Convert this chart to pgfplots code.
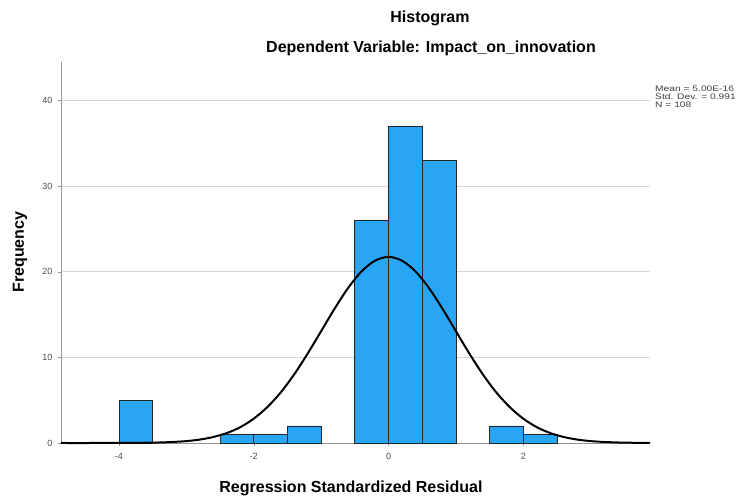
\documentclass[border=0pt]{standalone}
\usepackage{pgfplots}
\pgfplotsset{compat=1.18}
\usepackage{fontspec}
\setmainfont{Liberation Sans}
\definecolor{barblue}{RGB}{40,165,245}
\definecolor{gridgray}{RGB}{215,215,215}
\definecolor{axgray}{RGB}{150,150,150}
\begin{document}
\begin{tikzpicture}
\begin{axis}[
  name=ax,
  scale only axis,
  width=589pt, height=381pt,
  xmin=-4.86, xmax=3.88,
  ymin=0, ymax=44.5,
  axis lines=left,
  axis line style={-, draw=axgray, line width=0.8pt},
  xtick={-4,-2,0,2},
  ytick={0,10,20,30,40},
  ymajorgrids,
  grid style={gridgray, line width=0.8pt},
  tick style={draw=axgray},
  major tick length=3pt,
  tick align=outside,
  /pgf/number format/assume math mode=true,
  ticklabel style={font=\fontsize{9}{10}\selectfont, text=black!70},
  xticklabel style={yshift=-4pt},
  yticklabel style={xshift=-2pt},
  clip=false,
]
\addplot[ybar interval, fill=barblue, draw=black!85, line width=0.7pt]
  coordinates {(-4,5) (-3.5,5)};
\addplot[ybar interval, fill=barblue, draw=black!85, line width=0.7pt]
  coordinates {(-2.5,1) (-2,1) (-1.5,2) (-1,2)};
\addplot[ybar interval, fill=barblue, draw=black!85, line width=0.7pt]
  coordinates {(-0.5,26) (0,37) (0.5,33) (1,33)};
\addplot[ybar interval, fill=barblue, draw=black!85, line width=0.7pt]
  coordinates {(1.5,2) (2,1) (2.5,1)};
\addplot[black, line width=2pt, smooth, no markers] coordinates {
(-4.86,0) (-4.4,0) (-4.0,0.01) (-3.8,0.01) (-3.6,0.03) (-3.4,0.06) (-3.2,0.12) (-3.0,0.22)
(-2.8,0.40) (-2.6,0.70) (-2.4,1.16) (-2.2,1.85) (-2.0,2.84) (-1.8,4.18)
(-1.6,5.90) (-1.4,8.01) (-1.2,10.44) (-1.0,13.06) (-0.8,15.69) (-0.6,18.10)
(-0.4,20.04) (-0.2,21.30) (0,21.74) (0.2,21.30) (0.4,20.04) (0.6,18.10)
(0.8,15.69) (1.0,13.06) (1.2,10.44) (1.4,8.01) (1.6,5.90) (1.8,4.18)
(2.0,2.84) (2.2,1.85) (2.4,1.16) (2.6,0.70) (2.8,0.40) (3.0,0.22)
(3.2,0.12) (3.4,0.06) (3.6,0.03) (3.88,0.01)};
\end{axis}
\node[font=\bfseries\fontsize{16}{18}\selectfont] at ([shift={(369pt,425pt)}]ax.south west) {Histogram};
\node[font=\bfseries\fontsize{16}{18}\selectfont] at ([shift={(370pt,395pt)}]ax.south west) {Dependent Variable: Impact\_on\_innovation};
\node[font=\bfseries\fontsize{16}{18}\selectfont, rotate=90] at ([shift={(-41pt,191pt)}]ax.south west) {Frequency};
\node[font=\bfseries\fontsize{16}{18}\selectfont] at ([shift={(290pt,-45pt)}]ax.south west) {Regression Standardized Residual};
\node[anchor=north west, inner sep=0pt, text=black!75] at ([shift={(594pt,357pt)}]ax.south west)
  {\scalebox{1.28}[1]{\fontsize{8}{7.6}\selectfont\begin{tabular}{@{}l@{}}Mean = 5.00E-16\\Std. Dev. = 0.991\\N = 108\end{tabular}}};
\pgfresetboundingbox
\path ([shift={(-61pt,-54pt)}]ax.south west) rectangle ([shift={(678pt,443pt)}]ax.south west);
\end{tikzpicture}
\end{document}
